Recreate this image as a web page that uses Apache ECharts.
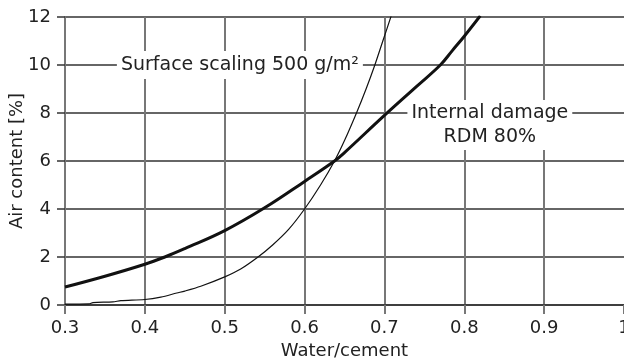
<!DOCTYPE html>
<html>
<head>
<meta charset="utf-8">
<script src="https://cdn.jsdelivr.net/npm/echarts@6/dist/echarts.min.js"></script>
<style>
  html, body { margin: 0; padding: 0; background: #fff; }
  #chart { width: 624px; height: 362px; }
</style>
</head>
<body>
<div id="chart"></div>
<script>
// water/cement ratio vs air content
const xTicks = [0.3, 0.4, 0.5, 0.6, 0.7, 0.8, 0.9, 1.0];
const yTicks = [0, 2, 4, 6, 8, 10, 12];

// thick curve: internal damage, RDM 80%
const internalX = [0.30, 0.35, 0.40, 0.425, 0.45, 0.50, 0.55, 0.60, 0.6375, 0.65, 0.70, 0.74, 0.77, 0.785, 0.80, 0.82];
const internalY = [0.75, 1.20, 1.70, 2.00, 2.35, 3.10, 4.05, 5.15, 6.00, 6.35, 7.90, 9.10, 10.0, 10.6, 11.2, 12.05];

// thin curve: surface scaling 500 g/m2
const scalingX = [0.30, 0.33, 0.335, 0.36, 0.37, 0.40, 0.42, 0.44, 0.45, 0.47, 0.50, 0.52, 0.5417, 0.56, 0.58, 0.60, 0.62, 0.6375, 0.65, 0.665, 0.677, 0.688, 0.698, 0.709];
const scalingY = [0.04, 0.05, 0.10, 0.13, 0.18, 0.23, 0.33, 0.50, 0.58, 0.78, 1.17, 1.50, 2.00, 2.50, 3.15, 4.00, 5.00, 6.00, 6.85, 8.00, 9.00, 10.0, 11.0, 12.1];

const font = "DejaVu Sans";

function pairs (xs, ys) {
  return xs.map((x, i) => [x, ys[i]]);
}

var myChart = echarts.init(document.getElementById("chart"));

var option = {
  animation: false,
  grid: { left: 65, right: 0, top: 17, bottom: 57, outerBoundsMode: "none", containLabel: false },
  xAxis: {
    type: "value",
    min: xTicks[0],
    max: xTicks[xTicks.length - 1],
    interval: 0.1,
    name: "Water/cement",
    nameLocation: "middle",
    nameGap: 37,
    nameMoveOverlap: false,
    nameTextStyle: { fontFamily: font, fontSize: 18, color: "#222" },
    axisLine: { show: true, lineStyle: { color: "#333", width: 1.5 } },
    axisTick: { show: true, length: 9, lineStyle: { color: "#777", width: 2 } },
    axisLabel: { fontFamily: font, fontSize: 18, color: "#222", margin: 14 },
    splitLine: { show: true, showMaxLine: false, lineStyle: { color: "#777", width: 2 } },
  },
  yAxis: {
    type: "value",
    min: yTicks[0],
    max: yTicks[yTicks.length - 1],
    interval: 2,
    name: "Air content [%]",
    nameLocation: "middle",
    nameGap: 39,
    nameMoveOverlap: false,
    nameTextStyle: { fontFamily: font, fontSize: 18, color: "#222" },
    axisLine: { show: true, lineStyle: { color: "#777", width: 2 } },
    axisTick: { show: true, length: 8, lineStyle: { color: "#333", width: 1.5 } },
    axisLabel: { fontFamily: font, fontSize: 18, color: "#222", margin: 14 },
    splitLine: { show: true, lineStyle: { color: "#333", width: 1.5 } },
  },
  series: [
    {
      name: "Internal damage",
      type: "line",
      showSymbol: false,
      smooth: 0.4,
      lineStyle: { color: "#111", width: 3 },
      data: pairs(internalX, internalY),
      markPoint: {
        symbol: "rect",
        symbolSize: 1,
        itemStyle: { color: "rgba(0,0,0,0)" },
        label: {
          show: true,
          formatter: "Internal damage\nRDM 80%",
          fontFamily: font,
          fontSize: 19,
          lineHeight: 24,
          color: "#222",
          align: "center",
          backgroundColor: "#fff",
          padding: [1, 4],
        },
        data: [{ coord: [0.832, 7.5] }],
      },
    },
    {
      name: "Surface scaling",
      type: "line",
      showSymbol: false,
      smooth: 0.3,
      lineStyle: { color: "#111", width: 1.2 },
      data: pairs(scalingX, scalingY),
      markPoint: {
        symbol: "rect",
        symbolSize: 1,
        itemStyle: { color: "rgba(0,0,0,0)" },
        label: {
          show: true,
          formatter: "Surface scaling 500 g/m²",
          fontFamily: font,
          fontSize: 19,
          lineHeight: 24,
          color: "#222",
          backgroundColor: "#fff",
          padding: [2, 4],
        },
        data: [{ coord: [0.519, 10] }],
      },
    },
  ],
};

myChart.setOption(option);
</script>
</body>
</html>
